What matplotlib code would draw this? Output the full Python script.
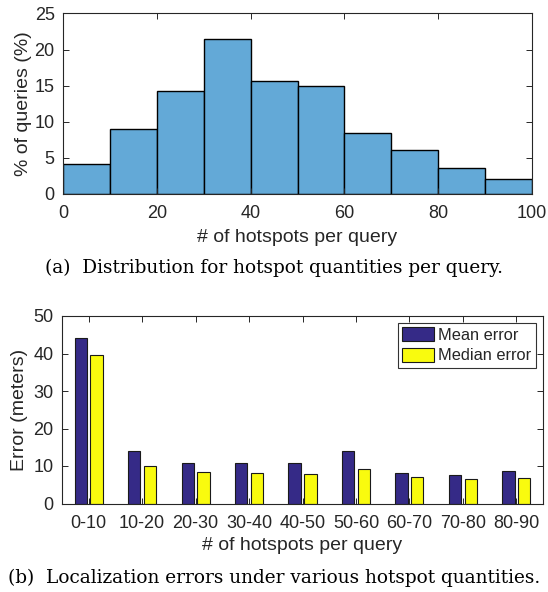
import numpy as np
import matplotlib.pyplot as plt

plt.rcParams['font.family'] = ['Liberation Sans', 'DejaVu Sans']

# (a) histogram of hotspots per query
bin_edges = [0, 10, 20, 30, 40, 50, 60, 70, 80, 90, 100]
pct_queries = [4.1, 9.0, 14.2, 21.5, 15.7, 14.9, 8.5, 6.1, 3.6, 2.1]

# (b) localization errors
groups = ['0-10', '10-20', '20-30', '30-40', '40-50', '50-60', '60-70', '70-80', '80-90']
mean_err = [44.2, 14.0, 10.8, 10.9, 10.9, 14.0, 8.2, 7.7, 8.7]
median_err = [39.6, 10.1, 8.3, 8.1, 7.9, 9.1, 7.0, 6.5, 6.8]

txt = '#262626'
fs = 13
lfs = 14

fig = plt.figure(figsize=(5.48, 5.92), dpi=100)

ax1 = fig.add_axes([63/548, 1-194/592, 469/548, 180.5/592])
left = np.array(bin_edges[:-1]); widths = np.diff(bin_edges)
ax1.bar(left, pct_queries, width=widths, align='edge', color='#63A9D7',
        edgecolor='black', linewidth=1.0)
ax1.set_xlim(0, 100); ax1.set_ylim(0, 25)
ax1.set_xticks([0, 20, 40, 60, 80, 100])
ax1.set_yticks([0, 5, 10, 15, 20, 25])
ax1.set_xlabel('# of hotspots per query', fontsize=lfs, color=txt, labelpad=5)
ax1.set_ylabel('% of queries (%)', fontsize=lfs, color=txt, labelpad=2)

ax2 = fig.add_axes([62/548, 1-503.5/592, 481/548, 187.5/592])
x = np.arange(1, len(groups)+1)
w = 0.23; off = 0.147
ax2.bar(x-off, mean_err, width=w, color='#352A87', edgecolor='#1a1a1a',
        linewidth=0.8, label='Mean error')
ax2.bar(x+off, median_err, width=w, color='#F9FB0E', edgecolor='#1a1a1a',
        linewidth=0.8, label='Median error')
ax2.set_xlim(0.5, 9.5); ax2.set_ylim(0, 50)
ax2.set_xticks(x); ax2.set_xticklabels(groups)
ax2.set_yticks([0, 10, 20, 30, 40, 50])
ax2.set_xlabel('# of hotspots per query', fontsize=lfs, color=txt, labelpad=4)
ax2.set_ylabel('Error (meters)', fontsize=lfs, color=txt, labelpad=4)
leg = ax2.legend(loc='upper right', fontsize=11.8, frameon=True, fancybox=False,
                 edgecolor='black', handlelength=1.95, handleheight=0.92,
                 handletextpad=0.25, borderpad=0.25, labelspacing=0.3,
                 borderaxespad=0.45)
leg.get_frame().set_linewidth(0.8)
for t in leg.get_texts():
    t.set_color(txt)

for ax in (ax1, ax2):
    ax.tick_params(direction='in', length=4, width=0.7, colors=txt,
                   labelsize=fs, top=True, right=True)
    ax.tick_params(axis='x', pad=8)
    ax.tick_params(axis='y', pad=6)
    for s in ax.spines.values():
        s.set_color(txt); s.set_linewidth(0.8)

fig.text(0.5, 1-268/592, '(a)  Distribution for hotspot quantities per query.',
         ha='center', va='center', fontsize=13.3, family='DejaVu Serif', color='black')
fig.text(0.5, 1-578/592, '(b)  Localization errors under various hotspot quantities.',
         ha='center', va='center', fontsize=13.3, family='DejaVu Serif', color='black')

fig.savefig('out.png', dpi=100)
